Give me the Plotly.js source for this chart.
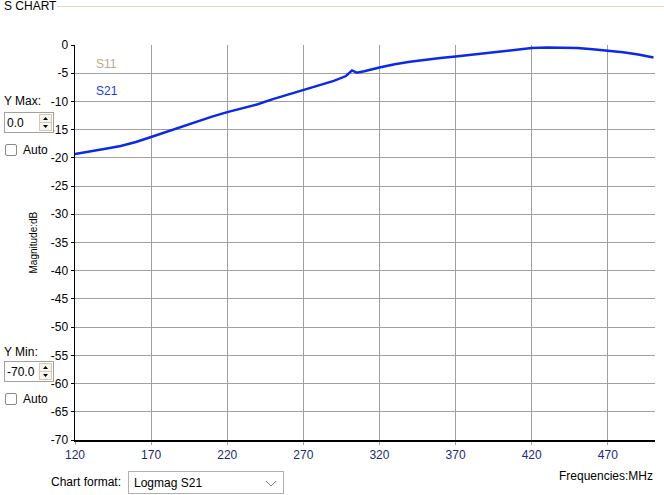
<!DOCTYPE html>
<html>
<head>
<meta charset="utf-8">
<script src="https://cdn.plot.ly/plotly-3.0.1.min.js"></script>
<style>
  html, body { margin:0; padding:0; background:#fff; width:664px; height:495px; overflow:hidden; font-family:"Liberation Sans", Arial, sans-serif; }
  #chart { position:absolute; left:0; top:0; width:664px; height:495px; }
  .ui { position:absolute; font-size:12px; color:#000; white-space:nowrap; }
  .spin { position:absolute; width:50px; height:21px; border:1px solid #a0a0a0; background:#fff; box-sizing:border-box; }
  .spin span { position:absolute; left:2px; top:3px; font-size:12px; }
  .spin .btn { position:absolute; right:1px; top:1px; width:13px; height:17px; }
  .chk { position:absolute; width:12px; height:12px; border:1px solid #8a8a8a; border-radius:2px; background:#fff; box-sizing:border-box; }
  .grpline { position:absolute; left:57px; top:6px; width:607px; height:1px; background:#e6d7be; }
  .combo { position:absolute; left:128px; top:471px; width:156px; height:23px; border:1px solid #b0b0b0; box-sizing:border-box; background:#fff; }
  .combo span { position:absolute; left:5px; top:4px; font-size:12px; }
</style>
</head>
<body>
<div id="chart"></div>
<div class="grpline"></div>
<div class="ui" style="left:4px; top:-1px; font-size:12px;">S CHART</div>

<div class="ui" style="left:4px; top:94px;">Y Max:</div>
<div class="spin" style="left:4px; top:112px;"><span>0.0</span><svg class="btn" width="13" height="17"><rect x="0.5" y="0.5" width="12" height="8" fill="#f4f4f4" stroke="#d8c8a8"/><rect x="0.5" y="8.5" width="12" height="8" fill="#f4f4f4" stroke="#d8c8a8"/><path d="M4,6 L6.5,3 L9,6 Z M4,11 L6.5,14 L9,11 Z" fill="#000"/></svg></div>
<div class="chk" style="left:5px; top:144px;"></div>
<div class="ui" style="left:23px; top:143px;">Auto</div>

<div class="ui" style="left:4px; top:345px;">Y Min:</div>
<div class="spin" style="left:4px; top:361px;"><span>-70.0</span><svg class="btn" width="13" height="17"><rect x="0.5" y="0.5" width="12" height="8" fill="#f4f4f4" stroke="#d8c8a8"/><rect x="0.5" y="8.5" width="12" height="8" fill="#f4f4f4" stroke="#d8c8a8"/><path d="M4,6 L6.5,3 L9,6 Z M4,11 L6.5,14 L9,11 Z" fill="#000"/></svg></div>
<div class="chk" style="left:5px; top:393px;"></div>
<div class="ui" style="left:23px; top:392px;">Auto</div>

<div class="ui" style="left:51px; top:475px;">Chart format:</div>
<div class="combo"><span>Logmag S21</span>
  <svg width="12" height="8" style="position:absolute; right:6px; top:8px;"><path d="M1,1 L6,6 L11,1" fill="none" stroke="#808080" stroke-width="1"/></svg>
</div>

<script>
// Data
const freqMHz = [120,130,140,150,160,170,180,190,200,210,220,230,240,250,260,270,280,290,298,302,305,310,320,330,340,350,360,370,380,390,400,410,420,430,440,450,460,470,480,490,500];
const s21dB   = [-19.3,-18.9,-18.4,-17.9,-17.2,-16.3,-15.4,-14.5,-13.5,-12.7,-11.9,-11.2,-10.5,-9.6,-8.8,-8.0,-7.2,-6.35,-5.5,-4.5,-4.9,-4.65,-4.0,-3.4,-2.95,-2.6,-2.3,-2.05,-1.75,-1.4,-1.05,-0.75,-0.55,-0.45,-0.45,-0.55,-0.75,-1.0,-1.3,-1.7,-2.2];
const xTicks = [120,170,220,270,320,370,420,470];
const yTicks = [0,-5,-10,-15,-20,-25,-30,-35,-40,-45,-50,-55,-60,-65,-70];
const legendNames = ["S11","S21"];
const legendColors = ["#b9a88d","#1a3ee0"];

const trace = {
  x: freqMHz, y: s21dB, type:'scatter', mode:'lines', name:'S21',
  line:{color:'#0a2ae6', width:2.5}, hoverinfo:'skip'
};

const font = "Liberation Sans, Arial, sans-serif";
const layout = {
  width:664, height:495,
  margin:{l:75, r:9, t:45, b:55},
  paper_bgcolor:'rgba(0,0,0,0)', plot_bgcolor:'rgba(0,0,0,0)',
  showlegend:false,
  font:{family:font, size:12, color:'#000'},
  xaxis:{
    range:[120,501], tickvals:xTicks, ticktext:xTicks.map(String),
    showgrid:true, gridcolor:'#a0a0a0', gridwidth:1,
    showline:true, linecolor:'#000', linewidth:1.5,
    ticks:'outside', ticklen:3, tickcolor:'#a0a0a0',
    tickfont:{family:font, size:12, color:'#1c2a78'}, zeroline:false, fixedrange:true
  },
  yaxis:{
    range:[-70,0], tickvals:yTicks, ticktext:yTicks.map(String),
    showgrid:true, gridcolor:'#a0a0a0', gridwidth:1,
    showline:true, linecolor:'#000', linewidth:1.5,
    ticks:'outside', ticklen:3, tickcolor:'#000',
    tickfont:{family:font, size:12, color:'#000'}, zeroline:false, fixedrange:true
  },
  annotations:[
    {xref:'paper', yref:'paper', x:0, y:0.5, xshift:-42, text:'Magnitude:dB', textangle:-90,
     showarrow:false, font:{family:font, size:10, color:'#000'}, xanchor:'center', yanchor:'middle'},
    {xref:'paper', yref:'paper', x:1, y:0, yshift:-36, xshift:0, text:'Frequencies:MHz',
     showarrow:false, font:{family:font, size:12, color:'#000'}, xanchor:'right', yanchor:'middle'}
  ].concat(legendNames.map((n,i)=>({
     xref:'paper', yref:'paper', x:0, y:1, xshift:19, yshift:-19 - i*27, text:n,
     showarrow:false, font:{family:font, size:12, color:legendColors[i]}, xanchor:'left', yanchor:'middle'
  })))
};

Plotly.newPlot('chart', [trace], layout, {displayModeBar:false, staticPlot:true});
</script>
</body>
</html>
